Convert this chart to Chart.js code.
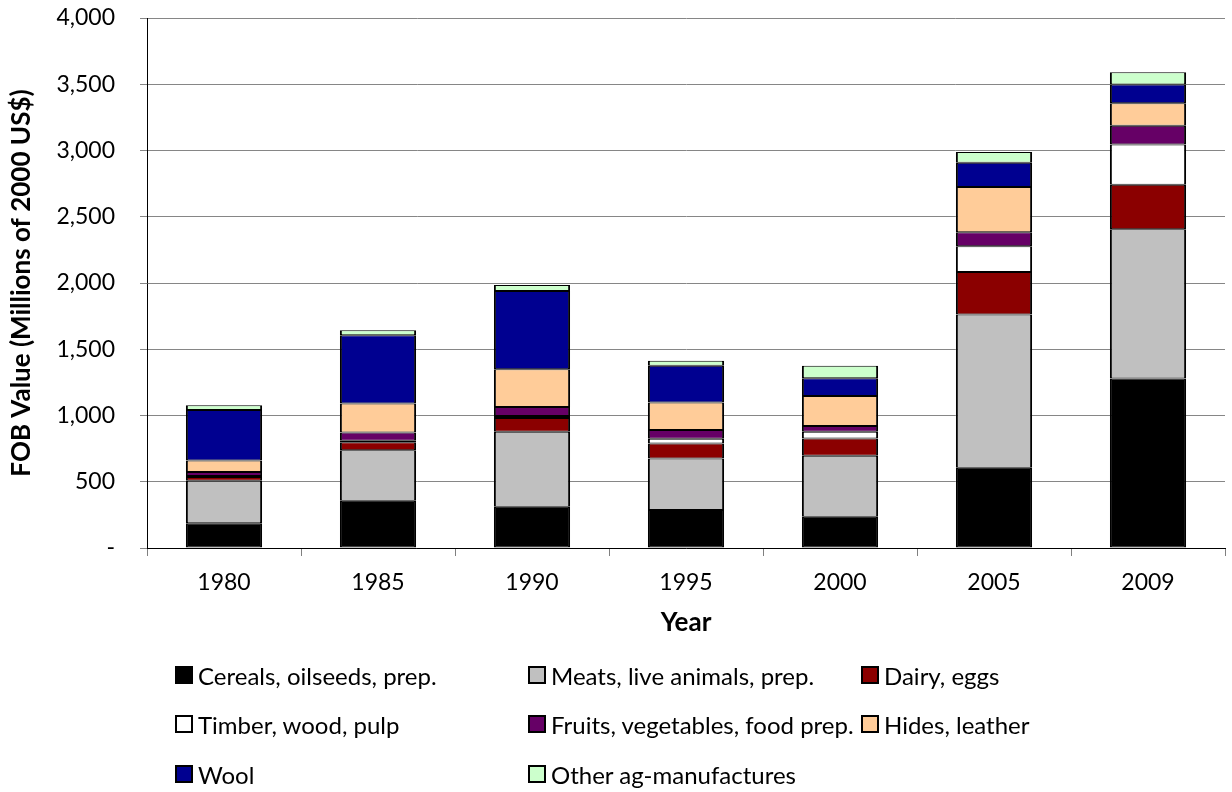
<!DOCTYPE html>
<html>
<head>
<meta charset="utf-8">
<script src="https://cdn.jsdelivr.net/npm/chart.js@4.4.1/dist/chart.umd.min.js"></script>
<style>
  html, body { margin: 0; padding: 0; background: #fff; }
  #wrap { position: relative; width: 1232px; height: 792px; }
  #chart { position: absolute; left: 0; top: 0; }
  .lg-item { position: absolute; display: flex; align-items: center; font-family: Lato, "Open Sans", sans-serif; font-size: 24px; color: #000; white-space: nowrap; }
  .lg-box { width: 14px; height: 14px; border: 2px solid #000; margin-right: 5px; }
</style>
</head>
<body>
<div id="wrap">
  <canvas id="chart" width="1232" height="792"></canvas>
  <div id="legend"></div>
</div>
<script>
// Agricultural exports by product group, FOB value (millions of 2000 US$)
const years = ['1980', '1985', '1990', '1995', '2000', '2005', '2009'];

const cereals = [186, 357, 311, 287, 236, 605, 1279];
const meats   = [321, 380, 566, 389, 460, 1157, 1126];
const dairy   = [28, 62, 105, 113, 131, 321, 337];
const timber  = [8, 10, 15, 35, 50, 194, 304];
const fruits  = [30, 62, 68, 66, 43, 106, 141];
const hides   = [88, 220, 285, 208, 228, 341, 170];
const wool    = [380, 515, 590, 277, 134, 184, 141];
const other   = [37, 38, 45, 38, 93, 80, 93];

const seriesNames = [
  'Cereals, oilseeds, prep.',
  'Meats, live animals, prep.',
  'Dairy, eggs',
  'Timber, wood, pulp',
  'Fruits, vegetables, food prep.',
  'Hides, leather',
  'Wool',
  'Other ag-manufactures'
];
const seriesValues = [cereals, meats, dairy, timber, fruits, hides, wool, other];
const seriesColors = ['#000000', '#C0C0C0', '#8B0000', '#FFFFFF', '#660066', '#FFCC99', '#000090', '#CCFFCC'];

const yTicks = [0, 500, 1000, 1500, 2000, 2500, 3000, 3500, 4000];

const FONT = 'Lato, "Open Sans", sans-serif';

const datasets = seriesNames.map((name, i) => ({
  label: name,
  data: seriesValues[i],
  backgroundColor: seriesColors[i],
  borderColor: '#000000',
  borderWidth: { top: 1, bottom: 1, left: 2, right: 2 },
  borderSkipped: false,
  categoryPercentage: 0.5,
  barPercentage: 0.99
}));

const chart = new Chart(document.getElementById('chart'), {
  type: 'bar',
  data: { labels: years, datasets },
  options: {
    responsive: false,
    animation: false,
    layout: { padding: { top: 18, right: 7, bottom: 154, left: 0 } },
    plugins: {
      legend: { display: false },
      tooltip: { enabled: false }
    },
    scales: {
      x: {
        stacked: true,
        grid: { display: true, drawOnChartArea: false, drawTicks: true, tickLength: 8, color: '#808080', offset: true },
        border: { color: '#000000', width: 1 },
        ticks: { color: '#000000', font: { family: FONT, size: 23 }, padding: 13 },
        title: {
          display: true, text: 'Year', color: '#000000',
          font: { family: FONT, size: 26, weight: 'bold' },
          padding: { top: 0, bottom: 0 }
        },
        afterFit: (s) => { s.height = 90; }
      },
      y: {
        stacked: true,
        min: yTicks[0],
        max: yTicks[yTicks.length - 1],
        afterBuildTicks: (s) => { s.ticks = yTicks.map(v => ({ value: v })); },
        ticks: {
          color: '#000000',
          font: { family: FONT, size: 23 },
          padding: 3,
          callback: (v) => v === 0 ? '-' : Number(v).toLocaleString('en-US')
        },
        // long tick slot keeps the labels clear of the axis; only the 7px next to the axis are stroked
        grid: { color: '#868686', lineWidth: 1, tickLength: 29, tickBorderDash: [7, 22], tickBorderDashOffset: 7 },
        border: { color: '#000000', width: 1 },
        title: {
          display: true, text: 'FOB Value (Millions of 2000 US$)', color: '#000000',
          font: { family: FONT, size: 26, weight: 'bold' },
          padding: { top: 6, bottom: 0 }
        },
        afterFit: (s) => { s.width = 147; }
      }
    }
  }
});

// Legend in three columns below the plot
const legendCols = [175, 528, 861];
const legendRows = [676, 725, 775];
const legendEl = document.getElementById('legend');
chart.data.datasets.forEach((ds, i) => {
  const item = document.createElement('div');
  item.className = 'lg-item';
  item.style.left = legendCols[i % 3] + 'px';
  item.style.top = (legendRows[Math.floor(i / 3)] - 16) + 'px';
  item.style.height = '30px';
  const box = document.createElement('span');
  box.className = 'lg-box';
  box.style.background = ds.backgroundColor;
  const txt = document.createElement('span');
  txt.textContent = ds.label;
  item.appendChild(box);
  item.appendChild(txt);
  legendEl.appendChild(item);
});
</script>
</body>
</html>
